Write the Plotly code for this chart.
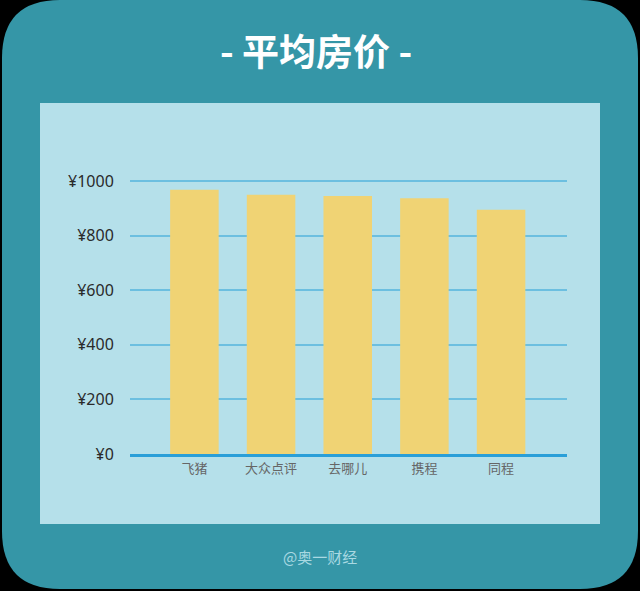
import plotly.graph_objects as go

categories = ["飞猪", "大众点评", "去哪儿", "携程", "同程"]
prices = [968, 950, 945, 937, 895]
y_ticks = [0, 200, 400, 600, 800, 1000]
y_tick_labels = ["¥0", "¥200", "¥400", "¥600", "¥800", "¥1000"]

W, H = 640, 591
# plot area in pixel coordinates
X0, X1 = 130, 567
Y_ZERO, Y_THOUSAND = 454, 181
Y_TOP = 176
L, R, T, B = X0, W - X1, Y_TOP, H - Y_ZERO
PW, PH = X1 - X0, Y_ZERO - Y_TOP
y_max = 1000 * (Y_ZERO - Y_TOP) / (Y_ZERO - Y_THOUSAND)

def px(x):
    return (x - X0) / PW

def py(y):
    return (Y_ZERO - y) / PH

def rounded_path(x0, y0, x1, y1, r):
    pts = [
        f"M {px(x0 + r)} {py(y0)}",
        f"L {px(x1 - r)} {py(y0)}",
        f"Q {px(x1)} {py(y0)} {px(x1)} {py(y0 + r)}",
        f"L {px(x1)} {py(y1 - r)}",
        f"Q {px(x1)} {py(y1)} {px(x1 - r)} {py(y1)}",
        f"L {px(x0 + r)} {py(y1)}",
        f"Q {px(x0)} {py(y1)} {px(x0)} {py(y1 - r)}",
        f"L {px(x0)} {py(y0 + r)}",
        f"Q {px(x0)} {py(y0)} {px(x0 + r)} {py(y0)}",
        "Z",
    ]
    return " ".join(pts)

font = "Noto Sans CJK SC"

fig = go.Figure()
fig.add_trace(go.Bar(
    x=categories, y=prices,
    marker=dict(color="#f0d374", line=dict(width=0)),
    hoverinfo="skip",
))

shapes = [
    dict(type="path", xref="paper", yref="paper", layer="below",
         path=rounded_path(2, 0, 638, 589, 58),
         fillcolor="#3596a7", line=dict(width=0)),
    dict(type="rect", xref="paper", yref="paper", layer="below",
         x0=px(40), x1=px(600), y0=py(524), y1=py(103),
         fillcolor="#b5e0ea", line=dict(width=0)),
]

fig.update_layout(
    width=W, height=H,
    margin=dict(l=L, r=R, t=T, b=B, pad=0),
    paper_bgcolor="#000000",
    plot_bgcolor="rgba(0,0,0,0)",
    bargap=0.367,
    showlegend=False,
    shapes=shapes,
    font=dict(family=font),
    xaxis=dict(
        range=[-0.84, 4.86],
        showgrid=False, zeroline=False,
        showline=True, linecolor="#2a9fd8", linewidth=3,
        ticks="", ticklen=0,
        tickfont=dict(family=font, size=13, color="#666666"),
        fixedrange=True,
    ),
    yaxis=dict(
        range=[0, y_max],
        tickvals=y_ticks, ticktext=y_tick_labels,
        showgrid=True, gridcolor="#6cbfe0", gridwidth=2,
        zeroline=False, showline=False,
        ticks="outside", ticklen=12, tickcolor="rgba(0,0,0,0)",
        tickfont=dict(family="Noto Sans", size=16, color="#2a2a2a"),
        fixedrange=True,
    ),
    annotations=[
        dict(text="<b>- 平均房价 -</b>", xref="paper", yref="paper",
             x=px(316), y=py(50), xanchor="center", yanchor="middle",
             showarrow=False, font=dict(family=font, size=37, color="#ffffff")),
        dict(text="@奥一财经", xref="paper", yref="paper",
             x=px(320), y=py(556), xanchor="center", yanchor="middle",
             showarrow=False, font=dict(family=font, size=15, color="#a9d9e2")),
    ],
)

fig.write_html(
    "out.html",
    config={"displayModeBar": False, "staticPlot": True},
    post_script="document.body.style.margin='0';document.body.style.background='#000';",
)
